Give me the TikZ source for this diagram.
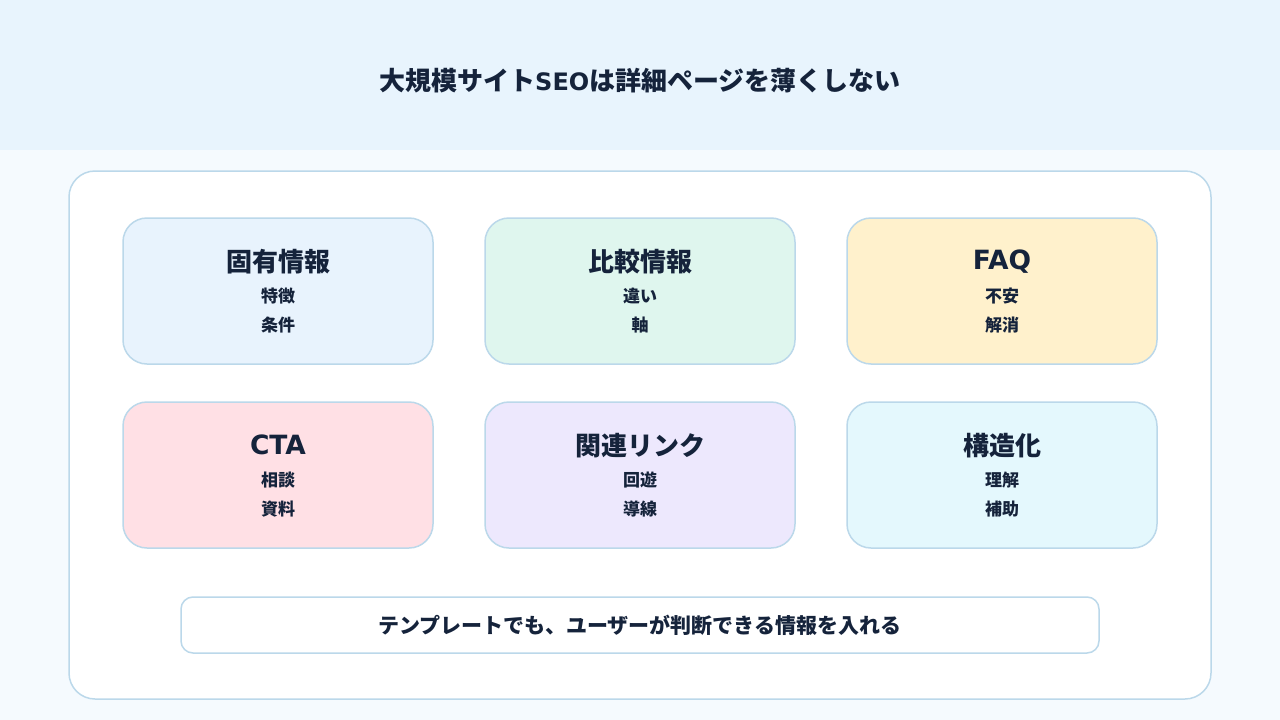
\documentclass[tikz,border=0pt]{standalone}
\usepackage{fontspec}
\setmainfont{Noto Sans CJK JP}
\newfontfamily\heavy{DejaVu Sans}
\usetikzlibrary{positioning}
\definecolor{headbg}{HTML}{E8F4FD}
\definecolor{pagebg}{HTML}{F5FAFE}
\definecolor{lineblue}{HTML}{BBD8EA}
\definecolor{ink}{HTML}{15233B}
\definecolor{cardA}{HTML}{E8F3FD}
\definecolor{cardB}{HTML}{DFF6EE}
\definecolor{cardC}{HTML}{FFF1CC}
\definecolor{cardD}{HTML}{FFE0E5}
\definecolor{cardE}{HTML}{EDE8FD}
\definecolor{cardF}{HTML}{E4F8FD}
\newcommand{\wide}[1]{{\heavy\bfseries\fontsize{26.5}{30}\selectfont #1}}

\begin{document}
\begin{tikzpicture}[x=1pt,y=-1pt,
    card/.style={draw=lineblue,line width=1.5pt,rounded corners=24pt,minimum width=310pt,minimum height=146pt},
    cardtitle/.style={text=ink,font=\fontsize{26}{30}\selectfont\bfseries},
    cardline/.style={text=ink,font=\fontsize{17}{20}\selectfont\bfseries}]
        \useasboundingbox (0,0) rectangle (1280,720);
        \fill[pagebg] (0,0) rectangle (1280,720);
        \fill[headbg] (0,0) rectangle (1280,150);
        \node[text=ink,font=\fontsize{26}{30}\selectfont\bfseries] (title) at (640,81) {大規模サイト{\heavy\bfseries\fontsize{24}{30}\selectfont SEO}は詳細ページを薄くしない};
        \node[draw=lineblue,fill=white,line width=1.5pt,rounded corners=26pt,minimum width=1142pt,minimum height=528pt] (panel) at (640,435) {};
        \foreach \cx/\cy/\fc/\nm/\ttl/\la/\lb in {
            278/291/cardA/koyu/固有情報/特徴/条件,
            640/291/cardB/hikaku/比較情報/違い/軸,
            1002/291/cardC/faq/\wide{FAQ}/不安/解消,
            278/475/cardD/cta/\wide{CTA}/相談/資料,
            640/475/cardE/link/関連リンク/回遊/導線,
            1002/475/cardF/kozo/構造化/理解/補助} {
            \node[card,fill=\fc] (\nm) at (\cx,\cy) {};
            \node[cardtitle] (\nm-t) at ([yshift=-44pt]\nm.north) {\ttl};
            \node[cardline] (\nm-a) at ([yshift=-79pt]\nm.north) {\la};
            \node[cardline] (\nm-b) at ([yshift=-108pt]\nm.north) {\lb};
        }
        \node[draw=lineblue,fill=white,line width=1.5pt,rounded corners=12pt,minimum width=918pt,minimum height=56pt,
              text=ink,font=\fontsize{21}{24}\selectfont\bfseries] (note) at (640,625) {テンプレートでも、ユーザーが判断できる情報を入れる};
    \end{tikzpicture}
\end{document}
